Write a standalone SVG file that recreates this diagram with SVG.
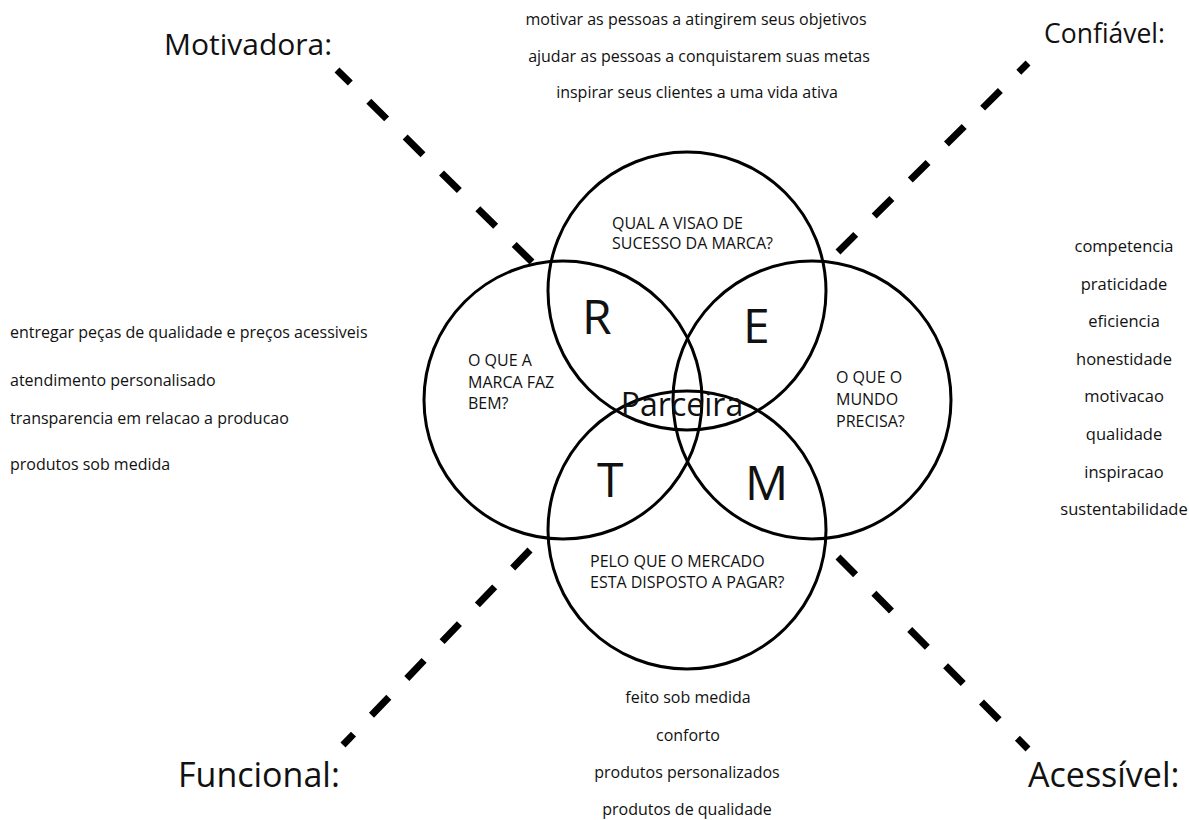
<svg xmlns="http://www.w3.org/2000/svg" width="1189" height="820" viewBox="0 0 1189 820">
<style>
text{font-family:"Open Sans","Noto Sans","Liberation Sans",sans-serif;fill:#111}
.lst{font-size:16px}
.q{font-size:16px}
.big{font-size:48px}
.lab{font-size:30px}
.lab2{font-size:34px}
.c{fill:none;stroke:#000;stroke-width:3}
.d{fill:none;stroke:#000;stroke-width:7;stroke-dasharray:25 26}
.m{text-anchor:middle}
</style>
<rect width="1189" height="820" fill="#fff"/>
<g id="connectors">
<path class="d" d="M532,262 L337,70"/>
<path class="d" d="M838,252 L1028,63"/>
<path class="d" d="M530,550 L343,745"/>
<path class="d" d="M838,557 L1028,749"/>
</g>
<g id="circle-top"><circle class="c" cx="687" cy="291" r="139"/>
<text class="q" x="612" y="229">QUAL A VISAO DE</text><text class="q" x="612" y="249">SUCESSO DA MARCA?</text></g>
<g id="circle-left"><circle class="c" cx="563" cy="400" r="139"/>
<text class="q" x="468" y="366">O QUE A</text><text class="q" x="468" y="388">MARCA FAZ</text><text class="q" x="468" y="409">BEM?</text></g>
<g id="circle-right"><circle class="c" cx="812" cy="400" r="139"/>
<text class="q" x="836" y="383">O QUE O</text><text class="q" x="836" y="405">MUNDO</text><text class="q" x="836" y="427">PRECISA?</text></g>
<g id="circle-bottom"><circle class="c" cx="687" cy="530" r="139"/>
<text class="q" x="590" y="567">PELO QUE O MERCADO</text><text class="q" x="590" y="588">ESTA DISPOSTO A PAGAR?</text></g>
<g id="letters">
<text class="big" x="582" y="334">R</text>
<text class="big" x="743" y="343">E</text>
<text class="big" x="597" y="497">T</text>
<text class="big" x="745" y="500">M</text>
<text x="682" y="416" class="m" style="font-size:32px">Parceira</text>
</g>
<g id="label-motivadora"><text class="lab" x="164" y="55">Motivadora:</text></g>
<g id="label-confiavel"><text class="lab" x="1044" y="43" style="font-size:26.5px">Confiável:</text></g>
<g id="label-funcional"><text class="lab2" x="178" y="787">Funcional:</text></g>
<g id="label-acessivel"><text class="lab2" x="1028" y="787">Acessível:</text></g>
<g id="list-top">
<text class="lst m" x="696" y="25">motivar as pessoas a atingirem seus objetivos</text>
<text class="lst m" x="699" y="62">ajudar as pessoas a conquistarem suas metas</text>
<text class="lst m" x="697" y="98">inspirar seus clientes a uma vida ativa</text>
</g>
<g id="list-left">
<text class="lst" x="10" y="338">entregar peças de qualidade e preços acessiveis</text>
<text class="lst" x="10" y="386">atendimento personalisado</text>
<text class="lst" x="10" y="424">transparencia em relacao a producao</text>
<text class="lst" x="10" y="470">produtos sob medida</text>
</g>
<g id="list-right" style="font-size:16.5px">
<text class="m" x="1124" y="252">competencia</text>
<text class="m" x="1124" y="290">praticidade</text>
<text class="m" x="1124" y="327">eficiencia</text>
<text class="m" x="1124" y="365">honestidade</text>
<text class="m" x="1124" y="402">motivacao</text>
<text class="m" x="1124" y="440">qualidade</text>
<text class="m" x="1124" y="478">inspiracao</text>
<text class="m" x="1124" y="515">sustentabilidade</text>
</g>
<g id="list-bottom">
<text class="lst m" x="688" y="703">feito sob medida</text>
<text class="lst m" x="688" y="741">conforto</text>
<text class="lst m" x="687" y="778">produtos personalizados</text>
<text class="lst m" x="687" y="815">produtos de qualidade</text>
</g>
</svg>
